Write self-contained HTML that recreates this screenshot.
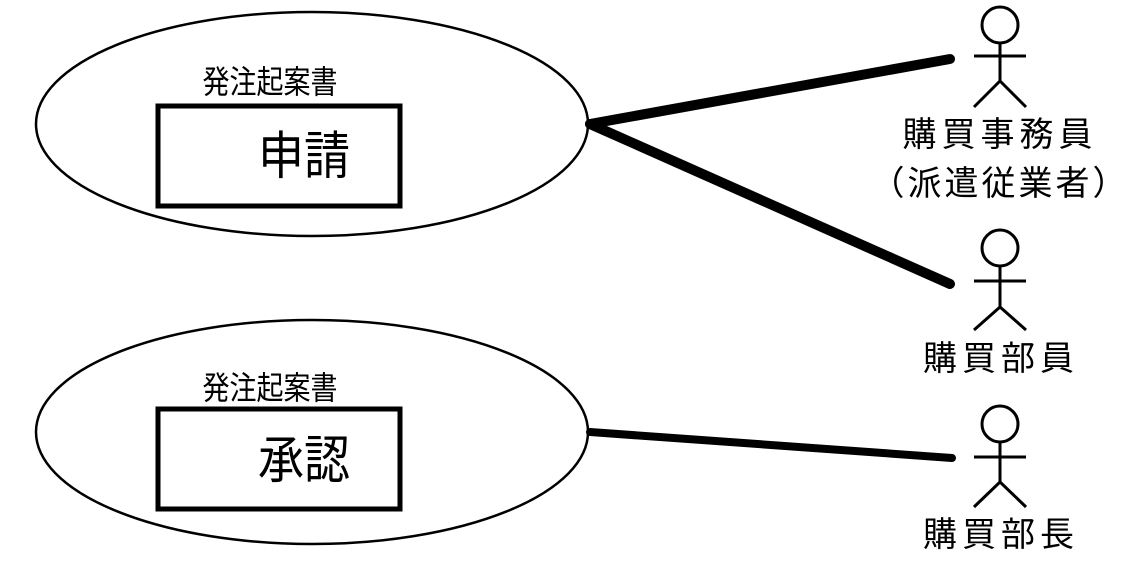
<!DOCTYPE html>
<html><head><meta charset="utf-8"><style>
html,body{margin:0;padding:0;background:#fff;}
svg text{font-family:"Liberation Sans","Noto Sans CJK JP",sans-serif;fill:#000;}
</style></head><body>
<svg width="1134" height="564" viewBox="0 0 1134 564" xmlns="http://www.w3.org/2000/svg">
<g fill="none" stroke="#000">
<ellipse cx="312" cy="124" rx="276" ry="112" stroke-width="2.5"/>
<rect x="158" y="106" width="242" height="100" stroke-width="5"/>
<ellipse cx="312" cy="432" rx="276" ry="112" stroke-width="2.5"/>
<rect x="158" y="409" width="242" height="100" stroke-width="5"/>
<line x1="590" y1="124" x2="950" y2="59" stroke-width="10" stroke-linecap="round"/>
<line x1="590" y1="124" x2="950" y2="284" stroke-width="10" stroke-linecap="round"/>
<line x1="590" y1="432" x2="952" y2="458" stroke-width="8" stroke-linecap="round"/>
<g stroke-width="3">
<circle cx="1000" cy="25" r="18"/>
<line x1="974" y1="56" x2="1026" y2="56"/><line x1="1000" y1="43" x2="1000" y2="81"/>
<polyline points="974,107 1000,81 1026,107"/>
<circle cx="1000" cy="248" r="18"/>
<line x1="974" y1="281" x2="1026" y2="281"/><line x1="1000" y1="266" x2="1000" y2="307"/>
<polyline points="974,330 1000,307 1026,330"/>
<circle cx="1000" cy="424" r="18"/>
<line x1="974" y1="457" x2="1026" y2="457"/><line x1="1000" y1="442" x2="1000" y2="482"/>
<polyline points="974,507 1000,482 1026,507"/>
</g>
</g>
<g text-anchor="middle">
<text transform="translate(270 93) scale(1 1.18)" font-size="27">発注起案書</text>
<text transform="translate(304 174) scale(1 1.12)" font-size="46">申請</text>
<text transform="translate(270 399) scale(1 1.18)" font-size="27">発注起案書</text>
<text transform="translate(304 478) scale(1 1.12)" font-size="46">承認</text>
<text x="1000" y="146" font-size="34" letter-spacing="5">購買事務員</text>
<text x="1000" y="195" font-size="34" letter-spacing="3">（派遣従業者）</text>
<text x="1001" y="370" font-size="34" letter-spacing="5">購買部員</text>
<text x="1001" y="546" font-size="34" letter-spacing="5">購買部長</text>
</g>
</svg>
</body></html>
